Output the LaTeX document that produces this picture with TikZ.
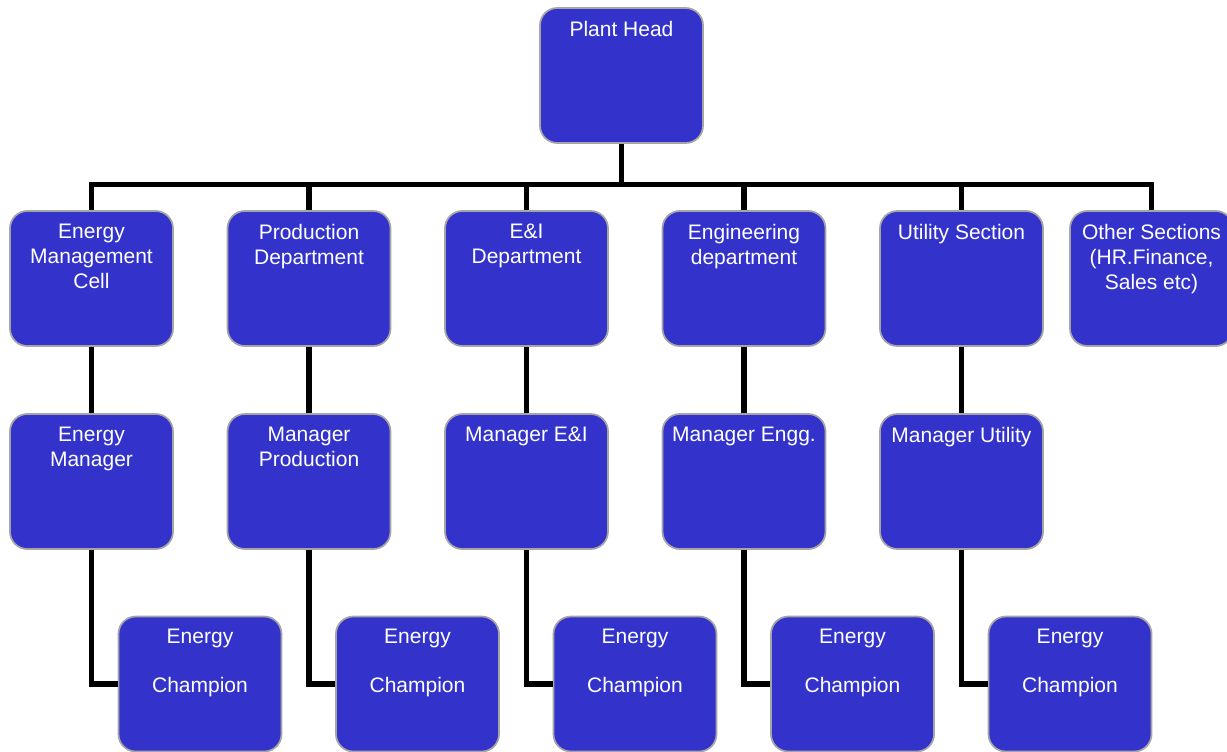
\documentclass[tikz,border=0pt]{standalone}
\usepackage{fontspec}
\setmainfont{Liberation Sans}
\usepackage{xcolor}
\definecolor{boxblue}{RGB}{51, 51, 204}
\definecolor{rim}{RGB}{165, 165, 165}
\newcommand{\toptext}[1]{\parbox[t][82pt][t]{116pt}{\centering #1}}

\begin{document}
\begin{tikzpicture}[x=0.75pt, y=-0.75pt,
    unit/.style={draw=rim, line width=1.3pt, fill=boxblue, rounded corners=13pt,
        minimum width=122.25pt, minimum height=101.25pt, inner xsep=2pt, inner ysep=9.6pt,
        text=white, font=\fontsize{15.75}{18.75}\selectfont},
    link/.style={line width=4.2pt}]
\useasboundingbox (0,0) rectangle (1227,751);

\node[unit] (head) at (621.5,75.5) {\toptext{Plant Head}};

% Sections, managers, champions
\foreach \n/\x/\sec/\mgr in {1/91.5/{Energy\\Management\\Cell}/{Energy\\Manager},
    2/309/{Production\\Department}/{Manager\\Production},
    3/526.5/{E\&I\\Department}/{Manager E\&I},
    4/744/{Engineering\\department}/{Manager Engg.},
    5/961.5/{Utility Section}/{Manager Utility}}{
    \node[unit] (sec\n) at (\x,278.5) {\toptext{\sec}};
    \node[unit] (mgr\n) at (\x,481.5) {\toptext{\mgr}};
    \node[unit] (champ\n) at (\x+108.5,684) {\toptext{Energy\\[18pt]Champion}};
}
\node[unit] (sec6) at (1151.5,278.5) {\toptext{Other Sections\\(HR.Finance,\\Sales etc)}};

% Bus lines
\coordinate (bus) at (621.5,184.5);
\draw[link] (head) -- (bus);
\foreach \n in {1,...,6}{
    \draw[link] (bus) -| (sec\n);
}

% Down to managers and champions
\foreach \n in {1,...,5}{
    \draw[link] (sec\n) -- (mgr\n);
    \draw[link] (mgr\n) |- (champ\n);
}
\end{tikzpicture}
\end{document}
